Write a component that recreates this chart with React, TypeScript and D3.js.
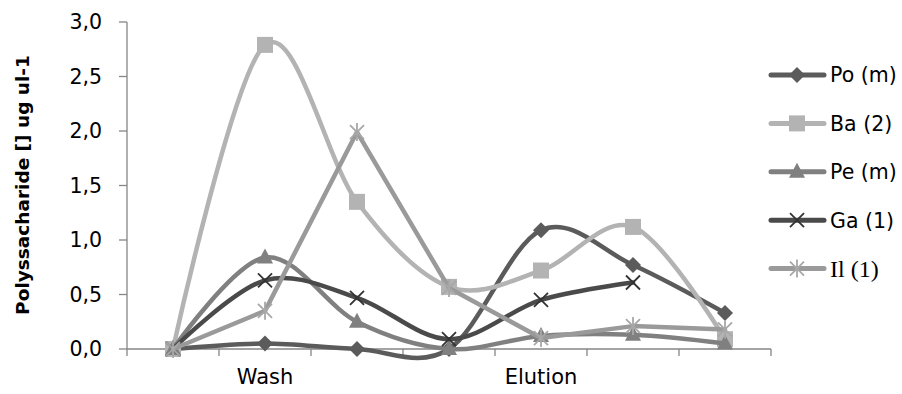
import React from "react";
import * as d3 from "d3";

const categories = ["", "Wash", "", "", "Elution", "", ""];
const yTicks = [0, 0.5, 1, 1.5, 2, 2.5, 3];

const poValues = [0, 0.05, 0, 0, 1.09, 0.77, 0.33];
const baValues = [0, 2.79, 1.35, 0.57, 0.72, 1.12, 0.09];
const peValues = [0, 0.84, 0.25, 0, 0.12, 0.13, 0.05];
const gaValues: (number | null)[] = [0, 0.63, 0.47, 0.09, 0.45, 0.61, null];
const ilValues = [0, 0.35, 1.99, 0.56, 0.1, 0.21, 0.18];

const seriesNames = ["Po (m)", "Ba (2)", "Pe (m)", "Ga (1)", "Il (1)"];

type Marker = "diamond" | "square" | "triangle" | "x" | "star";

const series = [
  { name: seriesNames[0], values: poValues as (number | null)[], color: "#5b5b5b", marker: "diamond" as Marker, smooth: true },
  { name: seriesNames[1], values: baValues as (number | null)[], color: "#b3b3b3", marker: "square" as Marker, smooth: true },
  { name: seriesNames[2], values: peValues as (number | null)[], color: "#808080", marker: "triangle" as Marker, smooth: true },
  { name: seriesNames[3], values: gaValues, color: "#4a4a4a", marker: "x" as Marker, smooth: true },
  { name: seriesNames[4], values: ilValues as (number | null)[], color: "#9a9a9a", marker: "star" as Marker, smooth: false },
];

const FONT = "'DejaVu Sans', sans-serif";

function MarkerShape({ type, x, y, color }: { type: Marker; x: number; y: number; color: string }) {
  const t = `translate(${x},${y})`;
  switch (type) {
    case "diamond":
      return <path transform={t} d="M0,-8L8,0L0,8L-8,0Z" fill={color} />;
    case "square":
      return <rect transform={t} x={-8} y={-8} width={16} height={16} fill={color} />;
    case "triangle":
      return <path transform={t} d="M0,-9L8,6L-8,6Z" fill={color} />;
    case "x":
      return (
        <path transform={t} d="M-7,-7L7,7M-7,7L7,-7" stroke="#333333" strokeWidth={1.8} fill="none" />
      );
    case "star":
      return (
        <path
          transform={t}
          d="M-7,-7L7,7M-7,7L7,-7M0,-9L0,9"
          stroke="#a8a8a8"
          strokeWidth={1.8}
          fill="none"
        />
      );
  }
}

export default function App() {
  const width = 902;
  const height = 394;
  const left = 127;
  const right = 771;
  const top = 22;
  const bottom = 349;

  const x = d3
    .scaleBand<number>()
    .domain(categories.map((_, i) => i))
    .range([left, right])
    .paddingInner(0)
    .paddingOuter(0);
  const cx = (i: number) => (x(i) as number) + x.bandwidth() / 2;
  const y = d3.scaleLinear().domain([0, 3]).range([bottom, top]);

  const tickPositions = d3.range(categories.length + 1).map((i) => left + i * x.bandwidth());

  const legendY0 = 75;
  const legendStep = 48.4;

  return (
    <svg width={width} height={height} style={{ position: "absolute", left: 0, top: 0, background: "#fff" }}>
      {/* y axis */}
      <line x1={left} x2={left} y1={top} y2={bottom} stroke="#868686" strokeWidth={1.3} />
      {yTicks.map((t) => (
        <g key={t}>
          <line x1={left - 8} x2={left} y1={y(t)} y2={y(t)} stroke="#868686" strokeWidth={1.3} />
          <text
            x={102}
            y={y(t)}
            dy="0.36em"
            textAnchor="end"
            fontFamily={FONT}
            fontSize={20.5}
            fill="#000"
          >
            {t.toFixed(1).replace(".", ",")}
          </text>
        </g>
      ))}
      {/* x axis */}
      <line x1={left} x2={right} y1={bottom} y2={bottom} stroke="#868686" strokeWidth={1.3} />
      {tickPositions.map((p, i) => (
        <line key={i} x1={p} x2={p} y1={bottom} y2={bottom + 7} stroke="#868686" strokeWidth={1.3} />
      ))}
      {categories.map((c, i) =>
        c ? (
          <text
            key={i}
            x={cx(i)}
            y={384}
            textAnchor="middle"
            fontFamily={FONT}
            fontSize={21}
            fill="#000"
          >
            {c}
          </text>
        ) : null
      )}
      {/* y title */}
      <text
        transform={`translate(29,185) rotate(-90)`}
        textAnchor="middle"
        fontFamily={FONT}
        fontWeight="bold"
        fontSize={18.5}
        fill="#000"
      >
        Polyssacharide [] ug ul-1
      </text>

      {/* series */}
      {series.map((s) => {
        const line = d3
          .line<number | null>()
          .defined((v) => v !== null)
          .x((_, i) => cx(i))
          .y((v) => y(v as number))
          .curve(s.smooth ? d3.curveCardinal.tension(0) : d3.curveLinear);
        return (
          <g key={s.name}>
            <path
              d={line(s.values) || ""}
              fill="none"
              stroke={s.color}
              strokeWidth={4.5}
              strokeLinejoin="round"
              strokeLinecap="round"
            />
            {s.values.map((v, i) =>
              v === null ? null : <MarkerShape key={i} type={s.marker} x={cx(i)} y={y(v)} color={s.color} />
            )}
          </g>
        );
      })}

      {/* legend */}
      {series.map((s, i) => {
        const ly = legendY0 + i * legendStep;
        const serif = s.name.startsWith("Il");
        return (
          <g key={s.name}>
            <line x1={771} x2={824} y1={ly} y2={ly} stroke={s.color} strokeWidth={5} strokeLinecap="round" />
            <MarkerShape type={s.marker} x={797} y={ly} color={s.color} />
            <text
              x={830}
              y={ly}
              dy="0.36em"
              fontFamily={serif ? "'Liberation Serif', serif" : FONT}
              fontSize={serif ? 24 : 20.5}
              fill="#000"
            >
              {s.name}
            </text>
          </g>
        );
      })}
    </svg>
  );
}
